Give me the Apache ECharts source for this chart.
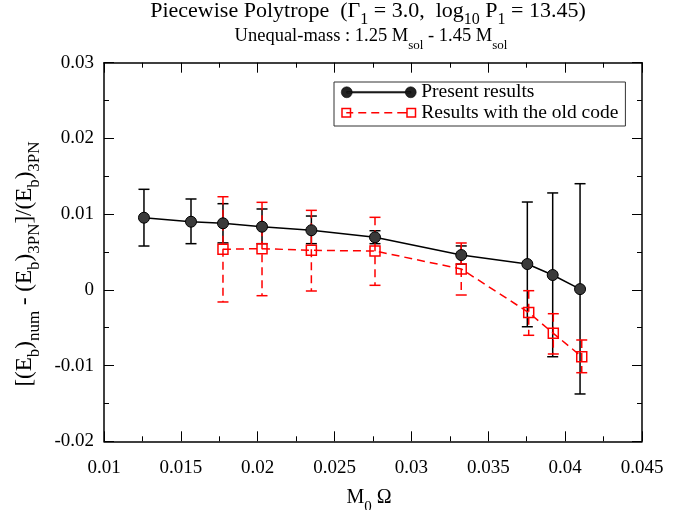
<!DOCTYPE html>
<html>
<head>
<meta charset="utf-8">
<script src="https://cdn.jsdelivr.net/npm/echarts@6/dist/echarts.min.js"></script>
<style>html,body{margin:0;padding:0;background:#fff;}#c{width:694px;height:510px;}</style>
</head>
<body>
<div id="c"></div>
<script>
// ---- data ----
const presentX  = [0.0126, 0.01566, 0.01774, 0.02028, 0.02349, 0.02763, 0.03324, 0.03754, 0.03919, 0.04097];
const presentY  = [0.00953, 0.0090, 0.00879, 0.00834, 0.00787, 0.00694, 0.0046, 0.00341, 0.00196, 0.0001];
const presentLo = [0.00579, 0.0061, 0.0062, 0.0061, 0.0061, 0.0061, 0.0034, -0.00487, -0.00883, -0.01375];
const presentHi = [0.01328, 0.0120, 0.01138, 0.01068, 0.00975, 0.00781, 0.0058, 0.0116, 0.0128, 0.01402];

const oldX  = [0.01774, 0.02028, 0.02349, 0.02763, 0.03324, 0.03763, 0.03923, 0.04108];
const oldY  = [0.00536, 0.00544, 0.00522, 0.00513, 0.00276, -0.0030, -0.00574, -0.00883];
const oldLo = [-0.0016, -0.00077, -0.00015, 0.0006, -0.00068, -0.0060, -0.00847, -0.01094];
const oldHi = [0.0123, 0.01156, 0.0105, 0.00958, 0.00619, -0.00011, -0.00315, -0.00662];

const seriesNames = ['Present results', 'Results with the old code'];
const xTicks = [0.01, 0.015, 0.02, 0.025, 0.03, 0.035, 0.04, 0.045];
const yTicks = [-0.02, -0.01, 0, 0.01, 0.02, 0.03];

const FONT = 'Liberation Serif';
const fmt = v => String(Math.round(v * 1000) / 1000);

function errRender(color, dashed) {
  return function (params, api) {
    const x = api.value(0), lo = api.value(1), hi = api.value(2);
    const p1 = api.coord([x, hi]), p2 = api.coord([x, lo]);
    const hw = 5.5;
    return {
      type: 'group',
      children: [
        { type: 'line', shape: { x1: p1[0], y1: p1[1], x2: p2[0], y2: p2[1] },
          style: { stroke: color, lineWidth: 1.5, lineDash: dashed ? [8, 5] : null } },
        { type: 'line', shape: { x1: p1[0] - hw, y1: p1[1], x2: p1[0] + hw, y2: p1[1] },
          style: { stroke: color, lineWidth: 1.5 } },
        { type: 'line', shape: { x1: p2[0] - hw, y1: p2[1], x2: p2[0] + hw, y2: p2[1] },
          style: { stroke: color, lineWidth: 1.5 } }
      ]
    };
  };
}

const mainRich = (size, sub, shift) => ({
  a: { fontFamily: FONT, fontSize: size, fontWeight: 'normal', color: '#000', lineHeight: size + 3, verticalAlign: 'top' },
  s: { fontFamily: FONT, fontSize: sub, fontWeight: 'normal', color: '#000', lineHeight: sub, padding: [shift, 0, 0, 0], verticalAlign: 'top' }
});

const blackIcon = 'path://M0,6 A5.5,5.5 0 1,1 11,6 A5.5,5.5 0 1,1 0,6 Z M64,6 A5.5,5.5 0 1,1 75,6 A5.5,5.5 0 1,1 64,6 Z M5.5,5.2 L69.5,5.2 L69.5,6.8 L5.5,6.8 Z';
const redIcon = 'path://M0,1 L10,1 L10,11 L0,11 Z M1.5,2.5 L1.5,9.5 L8.5,9.5 L8.5,2.5 Z ' +
  'M65,1 L75,1 L75,11 L65,11 Z M66.5,2.5 L66.5,9.5 L73.5,9.5 L73.5,2.5 Z ' +
  'M5,5.25 L12,5.25 L12,6.75 L5,6.75 Z M17,5.25 L25,5.25 L25,6.75 L17,6.75 Z M30,5.25 L38,5.25 L38,6.75 L30,6.75 Z ' +
  'M43,5.25 L51,5.25 L51,6.75 L43,6.75 Z M56,5.25 L65,5.25 L65,6.75 L56,6.75 Z';

const axisCommon = {
  axisLine: { show: true, onZero: false, lineStyle: { color: '#000', width: 1.5 } },
  axisTick: { show: true, inside: true, length: 10, lineStyle: { color: '#000', width: 1 } },
  minorTick: { show: true, splitNumber: 2, length: 5, lineStyle: { color: '#000', width: 1 } },
  splitLine: { show: false }
};

const chart = echarts.init(document.getElementById('c'), null, { renderer: 'canvas' });
chart.setOption({
  backgroundColor: '#fff',
  animation: false,
  title: [
    {
      left: 363, top: 0, textAlign: 'center', padding: [0, 5, 5, 5],
      text: '{a|Piecewise Polytrope  (Γ}{s|1}{a| = 3.0,  log}{s|10}{a| P}{s|1}{a| = 13.45)}',
      textStyle: { fontWeight: 'normal', rich: mainRich(22, 16, 12) }
    },
    {
      left: 366, top: 22, textAlign: 'center', padding: [5, 5, 5, 5],
      text: '{a|Unequal-mass : 1.25 M}{s|sol}{a| - 1.45 M}{s|sol}',
      textStyle: { fontWeight: 'normal', rich: mainRich(18.5, 13, 12) }
    }
  ],
  legend: {
    left: 334, top: 82, orient: 'vertical',
    padding: [0, 7, 3, 7],
    itemWidth: 75, itemHeight: 12, itemGap: 0,
    borderColor: '#333', borderWidth: 1, backgroundColor: '#fff',
    textStyle: { fontFamily: FONT, fontSize: 19.5, color: '#000', lineHeight: 20.5 },
    data: [
      { name: seriesNames[0], icon: blackIcon, itemStyle: { color: '#222', borderColor: '#000', borderWidth: 0.5 } },
      { name: seriesNames[1], icon: redIcon, itemStyle: { color: '#ff0000', borderWidth: 0 } }
    ]
  },
  grid: { left: 104, right: 52, top: 62.7, bottom: 68.7, containLabel: false, outerBoundsMode: 'none' },
  xAxis: [
    Object.assign({}, axisCommon, {
      type: 'value', min: xTicks[0], max: xTicks[xTicks.length - 1], interval: 0.005,
      position: 'bottom',
      axisLabel: { show: true, margin: 17, fontFamily: FONT, fontSize: 19, color: '#000', formatter: fmt },
      name: '{a|M}{s|0}{a| Ω}', nameLocation: 'middle', nameGap: 46,
      nameTextStyle: { rich: mainRich(20, 15, 12), padding: [0, 8, 0, 0] }
    }),
    Object.assign({}, axisCommon, {
      type: 'value', min: xTicks[0], max: xTicks[xTicks.length - 1], interval: 0.005,
      position: 'top', axisLabel: { show: false }
    })
  ],
  yAxis: [
    Object.assign({}, axisCommon, {
      type: 'value', min: yTicks[0], max: yTicks[yTicks.length - 1], interval: 0.01,
      position: 'left',
      axisLabel: { show: true, margin: 10, fontFamily: FONT, fontSize: 19, color: '#000', formatter: fmt },
      name: '{a|[(E}{s|b}{a|)}{s|num}{a| - (E}{s|b}{a|)}{s|3PN}{a|]/(E}{s|b}{a|)}{s|3PN}',
      nameLocation: 'middle', nameRotate: 90, nameGap: 56,
      nameTextStyle: { rich: mainRich(23, 17, 13), padding: [0, 24, 0, 0] }
    }),
    Object.assign({}, axisCommon, {
      type: 'value', min: yTicks[0], max: yTicks[yTicks.length - 1], interval: 0.01,
      position: 'right', axisLabel: { show: false }
    })
  ],
  series: [
    {
      type: 'custom', name: 'presentErr', silent: true, z: 2,
      renderItem: errRender('#000', false),
      encode: { x: 0, y: [1, 2] },
      data: presentX.map((x, i) => [x, presentLo[i], presentHi[i]])
    },
    {
      type: 'custom', name: 'oldErr', silent: true, z: 3,
      renderItem: errRender('#ff0000', true),
      encode: { x: 0, y: [1, 2] },
      data: oldX.map((x, i) => [x, oldLo[i], oldHi[i]])
    },
    {
      type: 'line', name: seriesNames[1], z: 4,
      symbol: 'rect', symbolSize: 10,
      itemStyle: { color: 'rgba(0,0,0,0)', borderColor: '#ff0000', borderWidth: 1.5 },
      lineStyle: { color: '#ff0000', width: 1.5, type: [8, 5] },
      data: oldX.map((x, i) => [x, oldY[i]])
    },
    {
      type: 'line', name: seriesNames[0], z: 5,
      symbol: 'circle', symbolSize: 11,
      itemStyle: { color: '#3a3a3a', borderColor: '#000', borderWidth: 1 },
      lineStyle: { color: '#000', width: 1.5 },
      data: presentX.map((x, i) => [x, presentY[i]])
    }
  ]
});
</script>
</body>
</html>
